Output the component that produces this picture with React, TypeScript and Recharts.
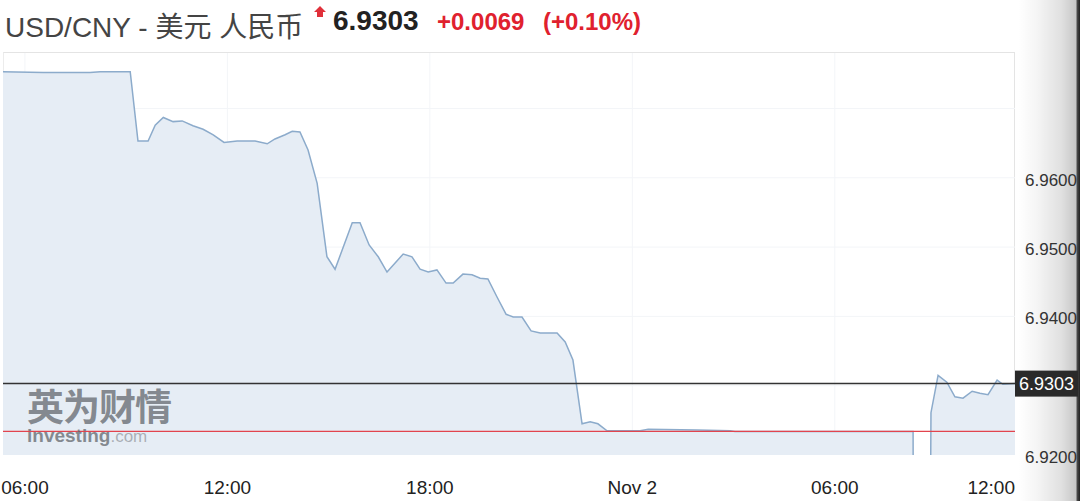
import React from 'react';
import { AreaChart, Area, XAxis, YAxis, CartesianGrid, ReferenceLine } from 'recharts';

// hours since Nov 1 00:00
const times = [
  5.35, 6.54, 7.93, 8.23, 9.12, 9.35, 9.65, 9.86, 10.1, 10.39, 10.66, 10.98, 11.28, 11.58, 11.9,
  12.29, 12.82, 13.18, 13.41, 13.71, 13.92, 14.15, 14.39, 14.66, 14.95, 15.19, 15.7, 15.93, 16.2,
  16.47, 16.73, 17.21, 17.47, 17.71, 17.95, 18.21, 18.48, 18.69, 18.98, 19.25, 19.49, 19.72, 19.99,
  20.26, 20.47, 20.73, 21.0, 21.27, 21.77, 22.01, 22.24, 22.51, 22.75, 22.98, 23.25, 24.23, 24.47,
  25.92, 26.9, 27.04, 32.32, 32.33, 32.82, 32.85, 33.06, 33.32, 33.56, 33.8, 34.07, 34.3, 34.54,
  34.81, 34.98, 35.34,
];
const rates = [
  6.9753, 6.9752, 6.9752, 6.9753, 6.9753, 6.9653, 6.9653, 6.9676, 6.9687, 6.9681, 6.9682, 6.9675,
  6.967, 6.9662, 6.9651, 6.9653, 6.9653, 6.9649, 6.9656, 6.9662, 6.9667, 6.9666, 6.964, 6.9592,
  6.9486, 6.9468, 6.9535, 6.9535, 6.9503, 6.9486, 6.9464, 6.949, 6.9486, 6.9468, 6.9464, 6.9467,
  6.9448, 6.9448, 6.9461, 6.946, 6.9455, 6.9454, 6.9428, 6.9403, 6.9399, 6.9399, 6.9379, 6.9376,
  6.9376, 6.9363, 6.9337, 6.9245, 6.9248, 6.9245, 6.9235, 6.9235, 6.9237, 6.9236, 6.9235, 6.9234,
  6.9234, 6.9, 6.9, 6.9261, 6.9315, 6.9305, 6.9284, 6.9282, 6.9292, 6.9289, 6.9287, 6.9308,
  6.9302, 6.9303,
];
const xTicks = [6, 12, 18, 24, 30, 36];
const xDomain = [5.35, 35.34];
const yTicks = [6.92, 6.94, 6.95, 6.96];
const yGrid = [6.93, 6.94, 6.95, 6.96, 6.97];
const yDomain = [6.92, 6.978];
const lastPrice = 6.9303;
const prevClose = 6.9234;
const titleText = 'USD/CNY - 美元 人民币';
const priceText = '6.9303';
const changeText = '+0.0069';
const changePctText = '(+0.10%)';

const data = times.map((t, i) => ({ t, v: rates[i] }));

const W = 1080;
const H = 501;
const PLOT_LEFT = 3;
const PLOT_RIGHT = 1015;
const PLOT_TOP = 53;
const PLOT_BOTTOM = 455;
const FONT = '"Liberation Sans", Arial, Helvetica, "Noto Sans CJK SC", sans-serif';

const fmtHour = (h: number) => {
  if (h === 24) return 'Nov 2';
  const hh = h % 24;
  return (hh < 10 ? '0' : '') + hh + ':00';
};

const XTick = (props: any) => {
  const { x, y, payload } = props;
  const label = fmtHour(payload.value);
  const half = 25;
  let tx = x;
  let anchor: 'middle' | 'end' = 'middle';
  if (x + half > PLOT_RIGHT) {
    tx = PLOT_RIGHT;
    anchor = 'end';
  }
  return (
    <text x={tx} y={y + 39} textAnchor={anchor} fontSize={19} fill="#222" fontFamily={FONT}>
      {label}
    </text>
  );
};

const PriceLabel = (props: any) => {
  const vb = props.viewBox || {};
  const right = (vb.x || 0) + (vb.width || 0);
  const y = vb.y || 0;
  return (
    <g>
      <rect x={right} y={y - 13} width={63} height={26} fill="#2a2a2a" />
      <text x={right + 4} y={y + 6.5} fontSize={18} fill="#fff" fontFamily={FONT}>
        {lastPrice.toFixed(4)}
      </text>
    </g>
  );
};

export default function App() {
  return (
    <div style={{ position: 'absolute', left: 0, top: 0, width: W, height: H, background: '#fff', overflow: 'hidden', fontFamily: FONT }}>
      <div
        style={{
          position: 'absolute',
          left: 1018,
          top: 0,
          width: 62,
          height: H,
          background:
            'linear-gradient(to right, rgba(0,0,0,0) 0%, rgba(0,0,0,0.04) 30%, rgba(0,0,0,0.12) 70%, rgba(0,0,0,0.22) 93%, #444 96%, #222 100%)',
        }}
      />
      <svg width={W} height={50} style={{ position: 'absolute', left: 0, top: 0 }}>
        <text x={5} y={37} fontSize={28} fill="#444" fontFamily={FONT}>
          {titleText}
        </text>
        <polygon points="320,6 326,12 323,12 323,17 317,17 317,12 314,12" fill="#e0303a" />
        <text x={333} y={30} fontSize={28} fontWeight="bold" fill="#222" fontFamily={FONT}>
          {priceText}
        </text>
        <text x={437} y={30} fontSize={24} fontWeight="bold" fill="#e0212e" fontFamily={FONT}>
          {changeText}
        </text>
        <text x={543} y={30} fontSize={24} fontWeight="bold" fill="#e0212e" fontFamily={FONT}>
          {changePctText}
        </text>
      </svg>
      <div
        style={{
          position: 'absolute',
          left: PLOT_LEFT,
          top: PLOT_TOP - 1,
          width: PLOT_RIGHT - PLOT_LEFT,
          height: PLOT_BOTTOM - PLOT_TOP,
          borderTop: '1px solid #e4e4e4',
          borderLeft: '1px solid #ececec',
          borderRight: '1px solid #e4e4e4',
          boxSizing: 'border-box',
        }}
      />
      <div style={{ position: 'absolute', left: 0, top: 0 }}>
        <AreaChart
          width={W}
          height={H}
          data={data}
          margin={{ top: PLOT_TOP, right: 0, bottom: H - PLOT_BOTTOM - 30, left: PLOT_LEFT }}
          style={{ fontFamily: FONT }}
        >
          <CartesianGrid
            stroke="#f3f5f8"
            horizontalValues={yGrid}
            verticalValues={[6, 12, 18, 24, 30]}
          />
          <XAxis
            dataKey="t"
            type="number"
            domain={xDomain}
            ticks={xTicks}
            interval={0}
            allowDataOverflow
            axisLine={false}
            tickLine={false}
            tickSize={0}
            tickMargin={0}
            height={30}
            tick={<XTick />}
          />
          <YAxis
            orientation="right"
            type="number"
            domain={yDomain}
            ticks={yTicks}
            interval={0}
            allowDataOverflow
            axisLine={false}
            tickLine={false}
            tickSize={6}
            tickMargin={4}
            width={65}
            tick={{ fontSize: 17, fill: '#333', fontFamily: FONT, dy: 2 }}
            tickFormatter={(v: number) => v.toFixed(4)}
          />
          <Area
            type="linear"
            dataKey="v"
            stroke="#8cabcb"
            strokeWidth={1.5}
            fill="#e6edf5"
            fillOpacity={1}
            isAnimationActive={false}
            dot={false}
            activeDot={false}
          />
          <ReferenceLine y={prevClose} stroke="#e2444e" strokeWidth={1.2} />
          <ReferenceLine y={lastPrice} stroke="#333" strokeWidth={1.5} label={<PriceLabel />} />
        </AreaChart>
      </div>
      <div style={{ position: 'absolute', left: 27, top: 387, pointerEvents: 'none', lineHeight: 1 }}>
        <div style={{ fontSize: 37, fontWeight: 'bold', color: 'rgba(105,110,116,0.8)', fontFamily: '"Noto Sans CJK SC", sans-serif', letterSpacing: -1, height: 39 }}>
          英为财情
        </div>
        <div style={{ fontFamily: FONT, whiteSpace: 'nowrap', height: 20 }}>
          <span style={{ fontSize: 19, fontWeight: 'bold', color: 'rgba(100,104,110,0.75)' }}>investing</span>
          <span style={{ fontSize: 17, color: 'rgba(150,154,160,0.75)' }}>.com</span>
        </div>
      </div>
    </div>
  );
}
